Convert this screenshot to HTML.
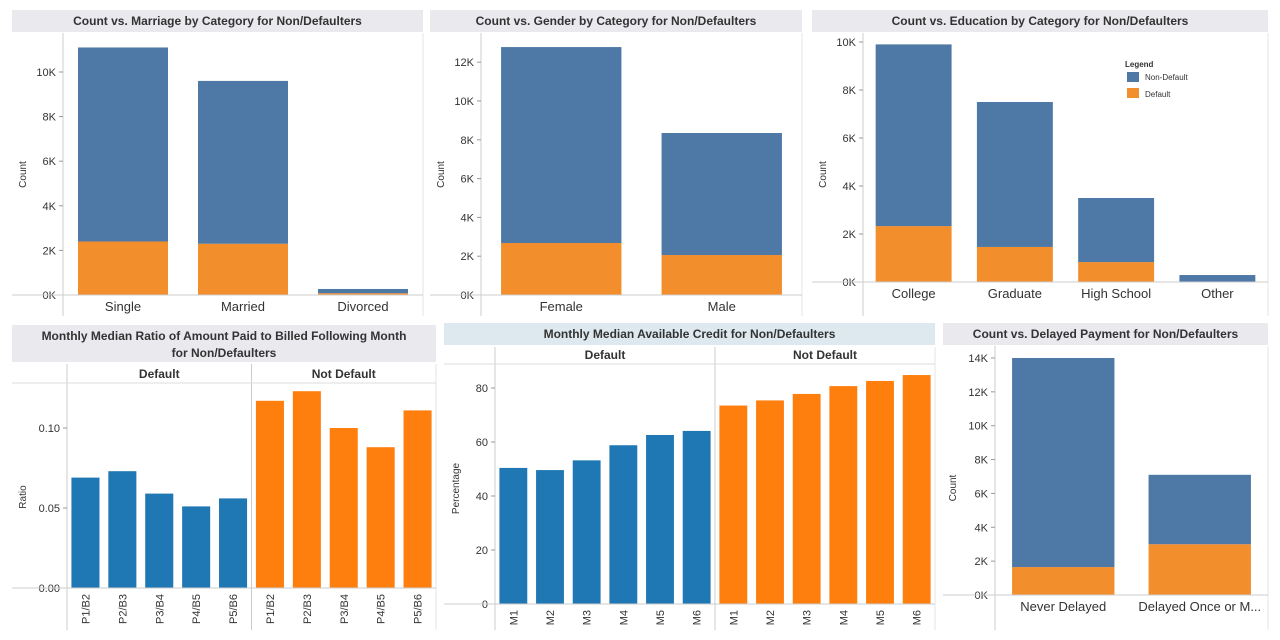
<!DOCTYPE html>
<html><head><meta charset="utf-8">
<style>
html,body{margin:0;padding:0;background:#fff;}
svg{display:block;font-family:"Liberation Sans",Arial,sans-serif;}
</style></head>
<body>
<svg id="dash" width="1280" height="640" viewBox="0 0 1280 640" xmlns="http://www.w3.org/2000/svg"></svg>
<script>
// ---------- data ----------
const marriageCats = ['Single','Married','Divorced'];
const marriageNonDefault = [8.7, 7.3, 0.19];
const marriageDefault = [2.4, 2.3, 0.08];
const marriageTicks = [0,2,4,6,8,10];

const genderCats = ['Female','Male'];
const genderNonDefault = [10.1, 6.29];
const genderDefault = [2.68, 2.06];
const genderTicks = [0,2,4,6,8,10,12];

const eduCats = ['College','Graduate','High School','Other'];
const eduNonDefault = [7.57, 6.04, 2.67, 0.29];
const eduDefault = [2.33, 1.46, 0.83, 0.0];
const eduTicks = [0,2,4,6,8,10];

const ratioCats = ['P1/B2','P2/B3','P3/B4','P4/B5','P5/B6'];
const ratioDefault = [0.069, 0.073, 0.059, 0.051, 0.056];
const ratioNotDefault = [0.117, 0.123, 0.100, 0.088, 0.111];
const ratioTicks = [0, 0.05, 0.10];
const ratioTickLabels = ['0.00','0.05','0.10'];

const creditCats = ['M1','M2','M3','M4','M5','M6'];
const creditDefault = [50.4, 49.6, 53.2, 58.8, 62.6, 64.1];
const creditNotDefault = [73.5, 75.4, 77.8, 80.7, 82.6, 84.8];
const creditTicks = [0,20,40,60,80];

const delayCats = ['Never Delayed','Delayed Once or M...'];
const delayNonDefault = [12.35, 4.1];
const delayDefault = [1.65, 3.0];
const delayTicks = [0,2,4,6,8,10,12,14];

// ---------- drawing ----------
const NS = 'http://www.w3.org/2000/svg';
const svg = document.getElementById('dash');
function mk(tag, attrs, parent, text){
  const e = document.createElementNS(NS, tag);
  for (const k in attrs) e.setAttribute(k, attrs[k]);
  if (text !== undefined) e.textContent = text;
  (parent||svg).appendChild(e);
  return e;
}
const C_BLUE='#4e79a7', C_ORG='#f28e2b', B_BLUE='#1f77b4', B_ORG='#ff7f0e';

function titleBox(g, x, y, w, h, lines, fill, name){
  const r = mk('rect',{x:x,y:y,width:w,height:h,fill:fill},g);
  
  
  lines.forEach((ln,i)=>{
    const t = mk('text',{x:x+w/2,y:y+15+i*17,'text-anchor':'middle','font-size':'12','font-weight':'bold',fill:'#333'},g,ln);
    
    
  });
}
function yAxis(g, x0, x1, base, k, ticks, labels, fmt, title, titleX, top, bottom, name){
  mk('line',{x1:x0,y1:top,x2:x0,y2:bottom,stroke:'#ccc','stroke-width':1},g);
  mk('line',{x1:x1,y1:top,x2:x1,y2:bottom,stroke:'#e4e4e4','stroke-width':1},g);
  ticks.forEach((v,i)=>{
    const y = base - v*k;
    mk('line',{x1:x0-4,y1:y,x2:x0,y2:y,stroke:'#999'},g);
    const t = mk('text',{x:x0-7,y:y+4,'text-anchor':'end','font-size':'11',fill:'#333'},g, labels?labels[i]:fmt(v));
    
    
  });
  const ty = (top+bottom)/2;
  const tt = mk('text',{x:titleX,y:ty,'text-anchor':'middle','font-size':'10',fill:'#333',transform:'rotate(-90 '+titleX+' '+ty+')'},g,title);
  
  
}
function stacked(name, cats, nd, df, ticks, geom){
  const g = mk('g',{});
  
  
  titleBox(g, geom.tx, geom.ty, geom.tw, 22, [geom.title], '#e9e9ee', name);
  const k = geom.k, base = geom.base;
  yAxis(g, geom.x0, geom.x1, base, k, ticks, null, v=>v+'K', 'Count', geom.yt, geom.ty+23, geom.bottom, name);
  const band = (geom.x1-geom.x0)/cats.length, bw = band*geom.frac;
  cats.forEach((c,i)=>{
    const x = geom.x0 + band*i + (band-bw)/2;
    const hD = df[i]*k, hN = nd[i]*k;
    const r1 = mk('rect',{x:x,y:base-hD,width:bw,height:hD,fill:C_ORG},g);
    
    
    const r2 = mk('rect',{x:x,y:base-hD-hN,width:bw,height:hN,fill:C_BLUE},g);
    
    
    const t = mk('text',{x:x+bw/2,y:base+16,'text-anchor':'middle','font-size':'13',fill:'#333'},g,c);
    
    
  });
  mk('line',{x1:geom.tx,y1:base,x2:geom.x1,y2:base,stroke:'#ccc'},g);
  return g;
}
function paired(name, cats, s1, s2, ticks, tickLabels, geom){
  const g = mk('g',{});
  
  
  titleBox(g, geom.tx, geom.ty, geom.tw, geom.th, geom.title, geom.tfill, name);
  const k = geom.k, base = geom.base;
  const mid = (geom.x0+geom.x1)/2;
  yAxis(g, geom.x0, geom.x1, base, k, ticks, tickLabels, v=>String(v), geom.ytitle, geom.yt, geom.hy0, geom.bottom, name);
  mk('line',{x1:mid,y1:geom.hy0,x2:mid,y2:geom.bottom,stroke:'#ccc'},g);
  mk('line',{x1:geom.tx,y1:geom.hy1,x2:geom.x1,y2:geom.hy1,stroke:'#ddd'},g);
  const h1 = mk('text',{x:(geom.x0+mid)/2,y:geom.hy1-5,'text-anchor':'middle','font-size':'12','font-weight':'bold',fill:'#333'},g,'Default');
  
  
  const h2 = mk('text',{x:(mid+geom.x1)/2,y:geom.hy1-5,'text-anchor':'middle','font-size':'12','font-weight':'bold',fill:'#333'},g,'Not Default');
  
  
  const n = cats.length*2, band = (geom.x1-geom.x0)/n, bw = band*0.76;
  [s1,s2].forEach((s,si)=>{
    s.forEach((v,i)=>{
      const x = geom.x0 + band*(si*cats.length+i) + (band-bw)/2;
      const r = mk('rect',{x:x,y:base-v*k,width:bw,height:v*k,fill:si?B_ORG:B_BLUE},g);
      
      
      const cx = x+bw/2, cy = base+6;
      const t = mk('text',{x:cx,y:cy+4,'text-anchor':'end','font-size':'11',fill:'#333',transform:'rotate(-90 '+cx+' '+cy+')'},g,cats[i]);
      
      
    });
  });
  mk('line',{x1:geom.tx,y1:base,x2:geom.x1,y2:base,stroke:'#ccc'},g);
}

stacked('marriage', marriageCats, marriageNonDefault, marriageDefault, marriageTicks,
  {tx:12,ty:10,tw:411,title:'Count vs. Marriage by Category for Non/Defaulters',x0:63,x1:423,base:295,k:22.3,frac:0.75,yt:26,bottom:316});
stacked('gender', genderCats, genderNonDefault, genderDefault, genderTicks,
  {tx:430,ty:10,tw:372,title:'Count vs. Gender by Category for Non/Defaulters',x0:481,x1:802,base:295,k:19.4,frac:0.75,yt:444,bottom:316});
const eduG = stacked('education', eduCats, eduNonDefault, eduDefault, eduTicks,
  {tx:812,ty:10,tw:456,title:'Count vs. Education by Category for Non/Defaulters',x0:863,x1:1268,base:282,k:24,frac:0.75,yt:826,bottom:316});

// legend
const lg = mk('g',{});


mk('text',{x:1125,y:67,'font-size':'8','font-weight':'bold',fill:'#333'},lg,'Legend');
const l1 = mk('rect',{x:1127,y:72,width:12,height:10,fill:C_BLUE},lg);


mk('text',{x:1145,y:80,'font-size':'8',fill:'#333'},lg,'Non-Default');
const l2 = mk('rect',{x:1127,y:88,width:12,height:10,fill:C_ORG},lg);


mk('text',{x:1145,y:97,'font-size':'8',fill:'#333'},lg,'Default');

paired('ratio', ratioCats, ratioDefault, ratioNotDefault, ratioTicks, ratioTickLabels,
  {tx:12,ty:325,tw:424,th:37,tfill:'#e9e9ee',title:['Monthly Median Ratio of Amount Paid to Billed Following Month','for Non/Defaulters'],
   x0:67,x1:436,base:588,k:1600,ytitle:'Ratio',yt:26,hy0:364,hy1:383,bottom:630});
paired('credit', creditCats, creditDefault, creditNotDefault, creditTicks, null,
  {tx:444,ty:323,tw:491,th:22,tfill:'#dde9ee',title:['Monthly Median Available Credit for Non/Defaulters'],
   x0:495,x1:935,base:604,k:2.7,ytitle:'Percentage',yt:459,hy0:347,hy1:364,bottom:630});
stacked('delayed', delayCats, delayNonDefault, delayDefault, delayTicks,
  {tx:943,ty:323,tw:325,title:'Count vs. Delayed Payment for Non/Defaulters',x0:995,x1:1268,base:595,k:16.93,frac:0.75,yt:956,bottom:630});
</script>
</body></html>
